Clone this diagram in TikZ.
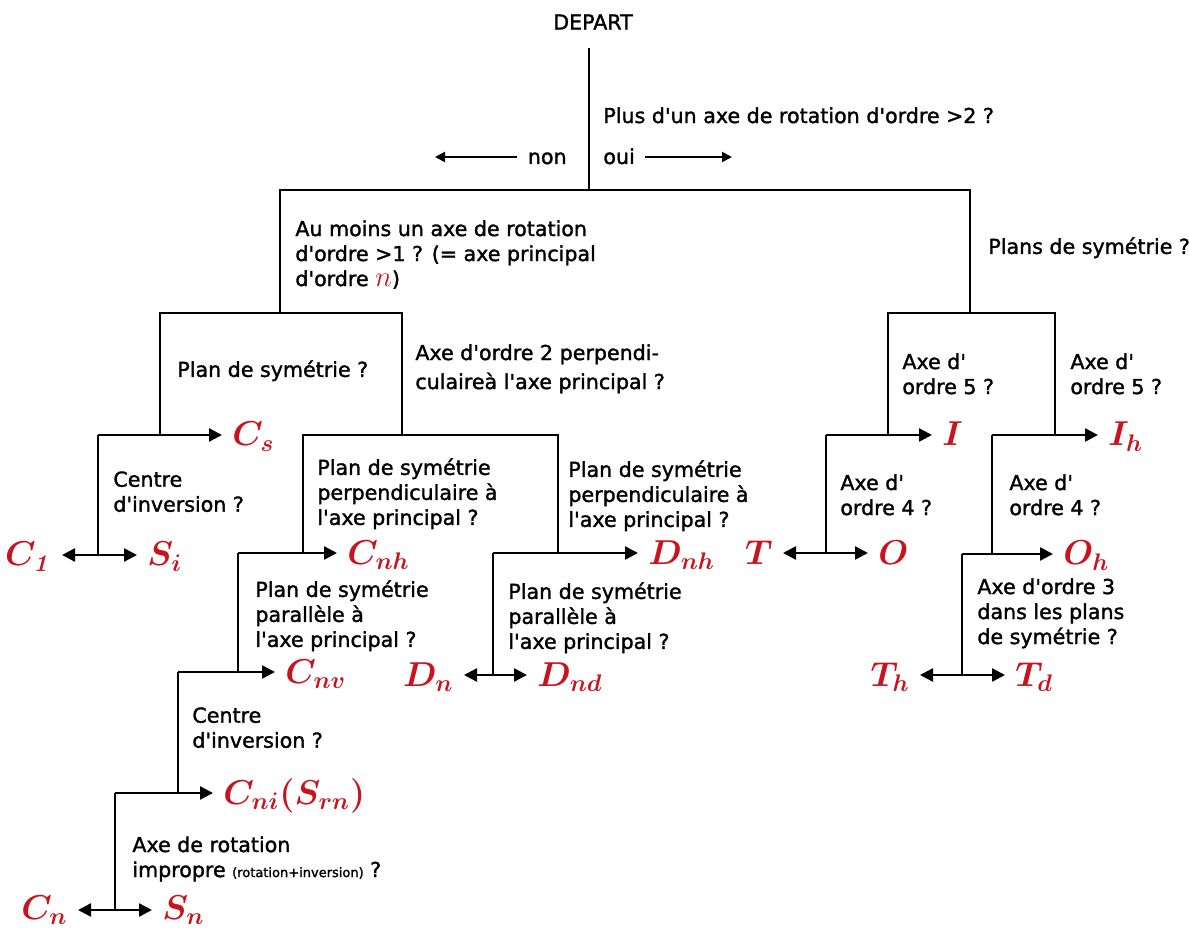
\documentclass[tikz,border=0pt]{standalone}
\usepackage{amsmath}
\usepackage[no-math]{fontspec}
\setmainfont{DejaVu Sans}
\newfontfamily\myqf{DejaVu Sans}[FakeBold=1.5]
\usetikzlibrary{arrows.meta}
\definecolor{lred}{RGB}{200,20,30}
\newcommand\myqfont{\myqf\fontsize{10.3}{12.5}\selectfont}
\newcommand\mylabfont{\fontsize{17.28}{18}\selectfont}
\tikzset{
  tree/.style={line width=1.25pt},
  arr/.style={tree,-{Triangle[length=6.5pt,width=6.5pt]}},
  darr/.style={tree,{Triangle[length=6.5pt,width=6.5pt]}-{Triangle[length=6.5pt,width=6.5pt]}},
  sarr/.style={line width=1pt,-{Triangle[length=5pt,width=5pt]}},
  q/.style={anchor=north west,inner sep=0pt,align=left,font=\myqfont},
  labw/.style={anchor=base west,inner sep=5pt,text=lred,font=\mylabfont},
  labe/.style={anchor=base east,inner sep=5pt,text=lred,font=\mylabfont},
}
\begin{document}
\begin{tikzpicture}[x=0.5pt,y=-0.5pt]
\useasboundingbox (0,0) rectangle (1189,930);

% ---- question texts
\node[font=\myqfont,inner sep=0pt] (depart) at (593,22) {DEPART};
\node[q] (plus) at (603,107) {Plus d'un axe de rotation d'ordre >2 ?};
\node[font=\myqfont,anchor=base east,inner sep=5pt] (non) at (577,164) {non};
\node[font=\myqfont,anchor=base west,inner sep=5pt] (oui) at (593,164) {oui};
\node[q] (aumoins) at (295,220) {Au moins un axe de rotation\\d'ordre >1 ? (= axe principal\\d'ordre {\color{lred}\fontsize{15}{12}\selectfont$n$})};
\node[q] (plans) at (988,237) {Plans de symétrie ?};
\node[q] (plan1) at (177,360) {Plan de symétrie ?};
\node[q] (axe2) at (415,344) {Axe d'ordre 2 perpendi-\\[2pt]culaireà l'axe principal ?};
\node[q] (centre1) at (113,471) {Centre\\d'inversion ?};
\node[q] (perp1) at (317,458) {Plan de symétrie\\perpendiculaire à\\l'axe principal ?};
\node[q] (perp2) at (568,460) {Plan de symétrie\\perpendiculaire à\\l'axe principal ?};
\node[q] (par1) at (255,580) {Plan de symétrie\\parallèle à\\l'axe principal ?};
\node[q] (par2) at (508,582) {Plan de symétrie\\parallèle à\\l'axe principal ?};
\node[q] (centre2) at (192,707) {Centre\\d'inversion ?};
\node[q] (impropre) at (132,836) {Axe de rotation\\impropre {\fontsize{6.5}{8}\selectfont(rotation+inversion)} ?};
\node[q] (axe5a) at (902,353) {Axe d'\\ordre 5 ?};
\node[q] (axe5b) at (1070,353) {Axe d'\\ordre 5 ?};
\node[q] (axe4a) at (840,474) {Axe d'\\ordre 4 ?};
\node[q] (axe4b) at (1009,474) {Axe d'\\ordre 4 ?};
\node[q] (axe3) at (977,578) {Axe d'ordre 3\\dans les plans\\de symétrie ?};

% ---- result labels
\node[labw] (cs)  at (222,446) {$\boldsymbol{C_s}$};
\node[labw] (si)  at (137,566) {$\boldsymbol{S_i}$};
\node[labe] (c1)  at (62,566)  {$\boldsymbol{C_{\mathit{1}}}$};
\node[labw] (cnh) at (337,564) {$\boldsymbol{C_{nh}}$};
\node[labw] (dnh) at (638,564) {$\boldsymbol{D_{nh}}$};
\node[labw] (cnv) at (275,683) {$\boldsymbol{C_{nv}}$};
\node[labe] (dn)  at (464,686) {$\boldsymbol{D_{n}}$};
\node[labw] (dnd) at (527,686) {$\boldsymbol{D_{nd}}$};
\node[labw] (cni) at (213,804) {$\boldsymbol{C_{ni}(S_{rn})}$};
\node[labe] (cn)  at (78,919)  {$\boldsymbol{C_{n}}$};
\node[labw] (sn)  at (152,919) {$\boldsymbol{S_{n}}$};
\node[labw] (ii)  at (932,446) {$\boldsymbol{I}$};
\node[labw] (ih)  at (1098,446) {$\boldsymbol{I_h}$};
\node[labe] (tt)  at (783,564) {$\boldsymbol{T}$};
\node[labw] (oo)  at (868,564) {$\boldsymbol{O}$};
\node[labw] (oh)  at (1053,565) {$\boldsymbol{O_h}$};
\node[labe] (th)  at (920,686) {$\boldsymbol{T_h}$};
\node[labw] (td)  at (1005,686) {$\boldsymbol{T_d}$};

% ---- junctions
\coordinate (top) at (589,48);
\coordinate (m)   at (589,190);
\coordinate (mL)  at (280,190);
\coordinate (mR)  at (970,190);
\coordinate (aL)  at (280,313);
\coordinate (aR)  at (970,313);
\coordinate (bLL) at (160,313);
\coordinate (bLR) at (402,313);
\coordinate (bRL) at (888,313);
\coordinate (bRR) at (1055,313);
\coordinate (k1)  at (160,435);
\coordinate (k2)  at (402,435);
\coordinate (k3)  at (98,435);
\coordinate (k4)  at (98,555);
\coordinate (k5)  at (303,435);
\coordinate (k6)  at (558,435);
\coordinate (k7)  at (303,553);
\coordinate (k8)  at (558,553);
\coordinate (k9)  at (238,553);
\coordinate (k10) at (493,553);
\coordinate (k11) at (238,672);
\coordinate (k12) at (178,672);
\coordinate (k13) at (493,675);
\coordinate (k14) at (178,793);
\coordinate (k15) at (115,793);
\coordinate (k16) at (115,910);
\coordinate (r1)  at (888,435);
\coordinate (r2)  at (1055,435);
\coordinate (r3)  at (826,435);
\coordinate (r4)  at (992,435);
\coordinate (r5)  at (826,553);
\coordinate (r6)  at (992,554);
\coordinate (r7)  at (962,554);
\coordinate (r8)  at (962,675);
\coordinate (nonend) at (435,157);
\coordinate (ouiend) at (732,157);

% ---- connectors
\draw[sarr] (nonend -| non.west) -- (nonend);
\draw[sarr] (ouiend -| oui.east) -- (ouiend);
\draw[tree] (top) -- (m);
\draw[tree] (aL) -- (mL) -- (mR) -- (aR);
\draw[tree] (k1) -- (bLL) -- (bLR) -- (k2);
\draw[tree] (r1) -- (bRL) -- (bRR) -- (r2);
% left branch
\draw[arr] (k3) -- (k3 -| cs.west);
\draw[tree] (k3) -- (k4);
\draw[darr] (k4 -| c1.east) -- (k4 -| si.west);
\draw[tree] (k7) -- (k5) -- (k6) -- (k8);
\draw[arr] (k9) -- (k9 -| cnh.west);
\draw[arr] (k10) -- (k10 -| dnh.west);
\draw[tree] (k9) -- (k11);
\draw[arr] (k12) -- (k12 -| cnv.west);
\draw[tree] (k10) -- (k13);
\draw[darr] (k13 -| dn.east) -- (k13 -| dnd.west);
\draw[tree] (k12) -- (k14);
\draw[arr] (k15) -- (k15 -| cni.west);
\draw[tree] (k15) -- (k16);
\draw[darr] (k16 -| cn.east) -- (k16 -| sn.west);
% right branch
\draw[arr] (r3) -- (r3 -| ii.west);
\draw[arr] (r4) -- (r4 -| ih.west);
\draw[tree] (r3) -- (r5);
\draw[darr] (r5 -| tt.east) -- (r5 -| oo.west);
\draw[tree] (r4) -- (r6);
\draw[arr] (r7) -- (r7 -| oh.west);
\draw[tree] (r7) -- (r8);
\draw[darr] (r8 -| th.east) -- (r8 -| td.west);
\end{tikzpicture}
\end{document}
